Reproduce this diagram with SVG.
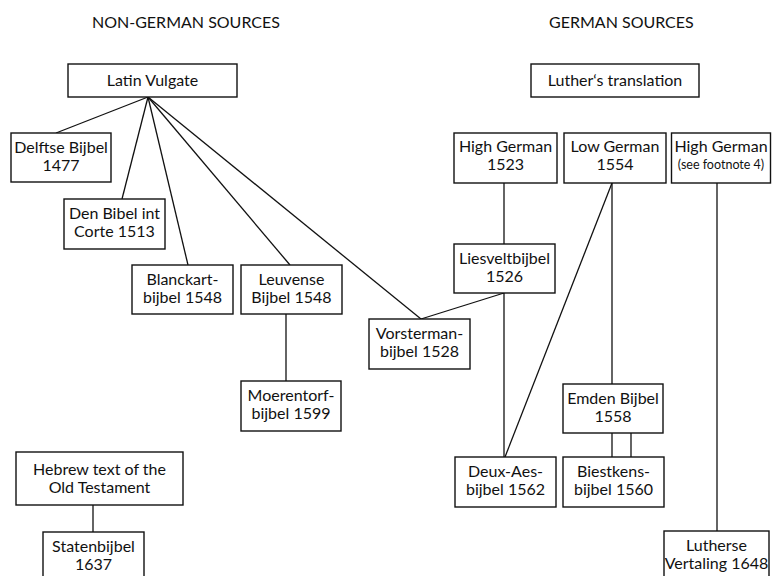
<svg xmlns="http://www.w3.org/2000/svg" width="772" height="576" viewBox="0 0 772 576">
  <style>
    .box { fill: #ffffff; stroke: #111111; stroke-width: 1.4; }
    .lbl { font-family: Lato, "Noto Sans", sans-serif; font-size: 16px; fill: #111111; text-anchor: middle; }
    .small { font-size: 12.5px; }
    .hdr { font-family: Lato, "Noto Sans", sans-serif; font-size: 16px; fill: #111111; text-anchor: start; }
    #connectors line { stroke: #111111; stroke-width: 1.3; fill: none; }
  </style>
  <rect width="772" height="576" fill="#ffffff"/>

  <!-- column headings -->
  <text class="hdr" x="92" y="28">NON-GERMAN SOURCES</text>
  <text class="hdr" x="549" y="28">GERMAN SOURCES</text>

  <!-- lines of descent -->
  <g id="connectors">
    <line x1="148" y1="97" x2="56" y2="133"/>
    <line x1="148" y1="97" x2="122" y2="199"/>
    <line x1="148" y1="97" x2="188" y2="265"/>
    <line x1="148" y1="97" x2="290" y2="265"/>
    <line x1="148" y1="97" x2="421" y2="319"/>
    <line x1="286" y1="314" x2="286" y2="381"/>
    <line x1="504" y1="183" x2="504" y2="244"/>
    <line x1="504" y1="293" x2="421" y2="319"/>
    <line x1="504" y1="293" x2="504" y2="457"/>
    <line x1="612" y1="183" x2="505" y2="457"/>
    <line x1="612" y1="183" x2="612" y2="384"/>
    <line x1="612" y1="433" x2="612" y2="457"/>
    <line x1="631" y1="433" x2="631" y2="457"/>
    <line x1="717" y1="183" x2="717" y2="531"/>
    <line x1="93" y1="505" x2="93" y2="532"/>
  </g>

  <g id="latin-vulgate">
    <rect class="box" x="68" y="64" width="169" height="33"/>
    <text class="lbl" x="152.5" y="86">Latin Vulgate</text>
  </g>
  <g id="delftse-bijbel">
    <rect class="box" x="11" y="133" width="100" height="49"/>
    <text class="lbl" x="61" y="153">Delftse Bijbel</text>
    <text class="lbl" x="61" y="171">1477</text>
  </g>
  <g id="den-bibel-int-corte">
    <rect class="box" x="64" y="199" width="101" height="50"/>
    <text class="lbl" x="114.5" y="219">Den Bibel int</text>
    <text class="lbl" x="114.5" y="237">Corte 1513</text>
  </g>
  <g id="blanckart-bijbel">
    <rect class="box" x="132" y="265" width="101" height="49"/>
    <text class="lbl" x="182.5" y="285">Blanckart-</text>
    <text class="lbl" x="182.5" y="303">bijbel 1548</text>
  </g>
  <g id="leuvense-bijbel">
    <rect class="box" x="241" y="265" width="101" height="49"/>
    <text class="lbl" x="291.5" y="285">Leuvense</text>
    <text class="lbl" x="291.5" y="303">Bijbel 1548</text>
  </g>
  <g id="moerentorf-bijbel">
    <rect class="box" x="241" y="381" width="100" height="50"/>
    <text class="lbl" x="291" y="401">Moerentorf-</text>
    <text class="lbl" x="291" y="419">bijbel 1599</text>
  </g>
  <g id="vorsterman-bijbel">
    <rect class="box" x="369" y="319" width="101" height="50"/>
    <text class="lbl" x="419.5" y="339">Vorsterman-</text>
    <text class="lbl" x="419.5" y="357">bijbel 1528</text>
  </g>
  <g id="hebrew-text">
    <rect class="box" x="16" y="452" width="167" height="53"/>
    <text class="lbl" x="99.5" y="475">Hebrew text of the</text>
    <text class="lbl" x="99.5" y="493">Old Testament</text>
  </g>
  <g id="statenbijbel">
    <rect class="box" x="43" y="532" width="101" height="50"/>
    <text class="lbl" x="93.5" y="552">Statenbijbel</text>
    <text class="lbl" x="93.5" y="570">1637</text>
  </g>

  <g id="luthers-translation">
    <rect class="box" x="531" y="64" width="168" height="33"/>
    <text class="lbl" x="615" y="86">Luther‘s translation</text>
  </g>
  <g id="high-german-1523">
    <rect class="box" x="454" y="133" width="103" height="50"/>
    <text class="lbl" x="505.5" y="152">High German</text>
    <text class="lbl" x="505.5" y="170">1523</text>
  </g>
  <g id="low-german-1554">
    <rect class="box" x="564" y="133" width="102" height="50"/>
    <text class="lbl" x="615" y="152">Low German</text>
    <text class="lbl" x="615" y="170">1554</text>
  </g>
  <g id="high-german-footnote">
    <rect class="box" x="671.5" y="133" width="99" height="50"/>
    <text class="lbl" x="721" y="152">High German</text>
    <text class="lbl small" x="721" y="169">(see footnote 4)</text>
  </g>
  <g id="liesveltbijbel">
    <rect class="box" x="454" y="244" width="101" height="49"/>
    <text class="lbl" x="504.5" y="264">Liesveltbijbel</text>
    <text class="lbl" x="504.5" y="282">1526</text>
  </g>
  <g id="emden-bijbel">
    <rect class="box" x="563" y="384" width="100" height="49"/>
    <text class="lbl" x="613" y="404">Emden Bijbel</text>
    <text class="lbl" x="613" y="422">1558</text>
  </g>
  <g id="deux-aes-bijbel">
    <rect class="box" x="455" y="457" width="101" height="50"/>
    <text class="lbl" x="505.5" y="477">Deux-Aes-</text>
    <text class="lbl" x="505.5" y="495">bijbel 1562</text>
  </g>
  <g id="biestkens-bijbel">
    <rect class="box" x="563" y="457" width="101" height="50"/>
    <text class="lbl" x="613.5" y="477">Biestkens-</text>
    <text class="lbl" x="613.5" y="495">bijbel 1560</text>
  </g>
  <g id="lutherse-vertaling">
    <rect class="box" x="664" y="531" width="105" height="50"/>
    <text class="lbl" x="716.5" y="551">Lutherse</text>
    <text class="lbl" x="716.5" y="569">Vertaling 1648</text>
  </g>
</svg>
